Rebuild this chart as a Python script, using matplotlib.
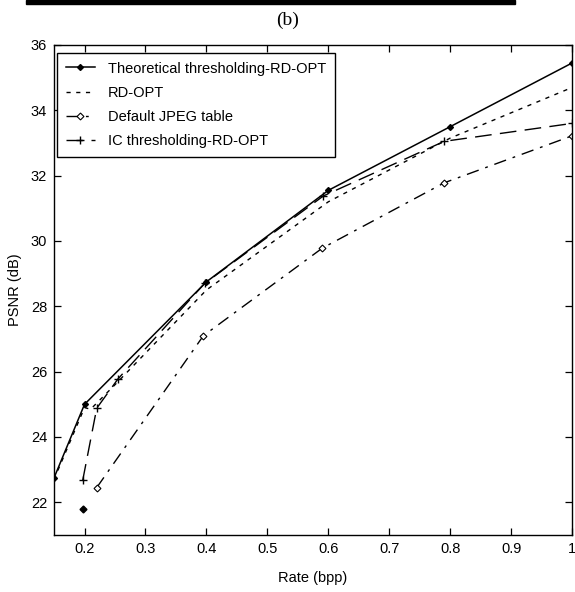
import numpy as np
import matplotlib
matplotlib.use('Agg')
import matplotlib.pyplot as plt
from matplotlib.patches import Rectangle

plt.rcParams['font.family'] = ['Liberation Sans', 'DejaVu Sans']

# PSNR (dB) against rate (bpp) for the four quantisation-table schemes
rate_theo = [0.15, 0.2, 0.4, 0.6, 0.8, 1.0]
psnr_theo = [22.75, 25.0, 28.75, 31.55, 33.5, 35.45]

rate_rdopt = [0.15, 0.2, 0.21, 0.25, 0.4, 0.6, 0.8, 1.0]
psnr_rdopt = [22.7, 24.9, 24.85, 25.6, 28.5, 31.2, 33.15, 34.7]

rate_jpeg = [0.22, 0.395, 0.59, 0.79, 1.0]
psnr_jpeg = [22.45, 27.1, 29.78, 31.78, 33.22]

rate_ic = [0.197, 0.22, 0.255, 0.397, 0.592, 0.79, 1.0]
psnr_ic = [22.67, 24.88, 25.78, 28.7, 31.38, 33.05, 33.6]

# stray theoretical point below the curve
rate_extra = [0.197]
psnr_extra = [21.8]

xticks = [0.2, 0.3, 0.4, 0.5, 0.6, 0.7, 0.8, 0.9, 1]
xtick_labels = ['0.2', '0.3', '0.4', '0.5', '0.6', '0.7', '0.8', '0.9', '1']
yticks = [22, 24, 26, 28, 30, 32, 34, 36]

fig = plt.figure(figsize=(5.75, 5.92), dpi=100)
ax = fig.add_axes([0.094, 0.0963, 0.901, 0.8277])

p0 = ax.plot(rate_theo, psnr_theo, color='black', linewidth=1.1, marker='D', markersize=3)
ax.plot(rate_extra, psnr_extra, color='black', linestyle='none', marker='D', markersize=3.5)
p1 = ax.plot(rate_rdopt, psnr_rdopt, color='black', linewidth=1.0, linestyle='--', dashes=(3, 4))
p2 = ax.plot(rate_jpeg, psnr_jpeg, color='black', linewidth=1.0, linestyle='-.', dashes=(9, 5, 2, 5),
             marker='D', markersize=3.5, markerfacecolor='white', markeredgewidth=0.8)
p3 = ax.plot(rate_ic, psnr_ic, color='black', linewidth=1.0, linestyle='--', dashes=(12, 6),
             marker='+', markersize=6, markeredgewidth=1.0)

ax.set_xlim(0.15, 1.0)
ax.set_ylim(21, 36)
ax.set_xticks(xticks)
ax.set_xticklabels(xtick_labels, fontsize=10.5)
ax.set_yticks(yticks)
ax.tick_params(axis='y', labelsize=10.5)
ax.tick_params(direction='in', length=5, width=0.9, top=True, right=True, pad=5)
for s in ax.spines.values():
    s.set_linewidth(1.0)

ax.set_xlabel('Rate (bpp)', fontsize=10.5, labelpad=11)
ax.set_ylabel('PSNR (dB)', fontsize=10.5, labelpad=6)

ax.legend([p0[0], p1[0], p2[0], p3[0]],
          ['Theoretical thresholding-RD-OPT', 'RD-OPT', 'Default JPEG table', 'IC thresholding-RD-OPT'],
          loc='upper left', bbox_to_anchor=(0.006, 0.984), fontsize=10.5, frameon=True,
          fancybox=False, edgecolor='black', framealpha=1, handlelength=2.0,
          handletextpad=0.9, labelspacing=0.7, borderpad=0.6, borderaxespad=0)
leg = ax.get_legend()
leg.get_frame().set_linewidth(1.0)

fig.text(0.5, 0.966, '(b)', ha='center', va='center', fontsize=14, family='Liberation Serif')
fig.patches.append(Rectangle((26 / 575, 1 - 4 / 592), 489 / 575, 4 / 592,
                             transform=fig.transFigure, color='black'))

fig.savefig('out.png', dpi=100)
